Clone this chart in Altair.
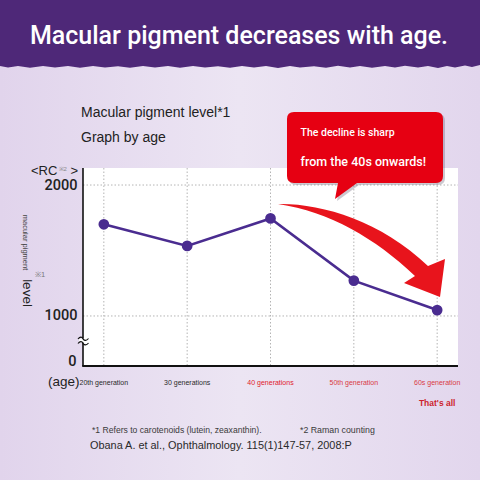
import altair as alt
import pandas as pd

# ---- data -------------------------------------------------------------
ages = ["20th generation", "30 generations", "40 generations",
        "50th generation", "60s generation"]
levels = [1700, 1535, 1745, 1270, 1045]          # RC counts
age_label_colors = ["#2a2a2a", "#2a2a2a", "#e0202c", "#d93a44", "#d93a44"]
y_ticks = [1000, 2000]
y_domain = [618, 2130]                            # axis is broken below 1000

df = pd.DataFrame({"age": ages, "level": levels, "lab_color": age_label_colors})
ticks_df = pd.DataFrame({"tick": y_ticks})
one = pd.DataFrame({"k": [0]})

# ---- geometry ---------------------------------------------------------
OX, OY = 83, 168          # plot-area origin on the 480x480 page
W, H = 375, 198           # plot-area size
SANS = "Liberation Sans"

def px(x):
    return alt.value(x - OX)

def py(y):
    return alt.value(y - OY)

def text(s, x, y, size, color="#222222", weight="normal", align="left",
         baseline="alphabetic", angle=0, font=SANS):
    return alt.Chart(one).mark_text(
        text=s, fontSize=size, color=color, fontWeight=weight, align=align,
        baseline=baseline, angle=angle, font=font
    ).encode(x=px(x), y=py(y))

def shape(path, color, dx=0, dy=0, opacity=1.0, filled=True, stroke_width=0):
    # a custom symbol at size 4 draws its path 1:1 in page pixels
    kw = dict(shape=path, size=4, opacity=opacity, filled=filled)
    if filled:
        kw.update(fill=color, strokeWidth=0)
    else:
        kw.update(stroke=color, strokeWidth=stroke_width)
    return alt.Chart(one).mark_point(**kw).encode(x=px(dx), y=py(dy))

x_scale = alt.Scale(type="point", domain=ages, padding=0.25)
y_scale = alt.Scale(domain=y_domain, nice=False, zero=False)

# ---- page background and banner -------------------------------------
page = alt.Chart(one).mark_rect(
    color=alt.Gradient(
        gradient="linear", x1=0, y1=0, x2=1, y2=0,
        stops=[alt.GradientStop(offset=0, color="#e1d4ec"),
               alt.GradientStop(offset=0.5, color="#ece5f3"),
               alt.GradientStop(offset=1, color="#e2d6ed")])
).encode(x=px(0), x2=px(480), y=py(0), y2=py(480))

banner_path = ("M0,0 H480 V65 L472,67 L465,65.5 L455,67.5 L447,66 L438,68 L428,66 "
               "L418,67.5 L405,65.8 L395,67.6 L385,66 L372,67.8 L360,66 L350,67.5 "
               "L338,65.8 L326,67.8 L314,66.2 L300,67.5 L290,66 L278,68 L266,66 "
               "L254,67.6 L242,66 L230,67.8 L218,66.2 L205,67.5 L193,66 L180,67.8 "
               "L168,66 L155,67.5 L143,66 L130,67.8 L118,66.2 L105,67.6 L93,66 "
               "L80,67.8 L68,66 L55,67.5 L43,66 L30,67.8 L18,66 L8,67.5 L0,66 Z")
banner = shape(banner_path, "#4e2878")
title = text("Macular pigment decreases with age.", 239, 44, 25, color="white",
             weight=500, align="center", font="Roboto")

# ---- plot area, grid and axis lines -----------------------------------
panel = alt.Chart(one).mark_rect(color="white").encode(
    x=alt.value(0), x2=alt.value(W), y=alt.value(0), y2=alt.value(H))

grid_style = dict(color="#b4b4b4", strokeWidth=1, strokeDash=[1.5, 2])
vgrid = alt.Chart(df).mark_rule(**grid_style).encode(
    x=alt.X("age:N", scale=x_scale, axis=None),
    y=alt.value(0), y2=alt.value(H))
hgrid = alt.Chart(ticks_df).mark_rule(**grid_style).encode(
    y=alt.Y("tick:Q", scale=y_scale,
            axis=alt.Axis(values=y_ticks, format="d", title=None, grid=False,
                          ticks=False, domain=False, labelFont="Roboto",
                          labelFontSize=14.5, labelFontWeight=500,
                          labelColor="#222222", labelPadding=6, zindex=1)),
    x=alt.value(0), x2=alt.value(W))

y_line = alt.Chart(one).mark_rule(color="#111111", strokeWidth=1.6).encode(
    x=alt.value(0), y=alt.value(0), y2=alt.value(H))
x_line = alt.Chart(one).mark_rule(color="#111111", strokeWidth=2).encode(
    x=alt.value(-0.8), x2=alt.value(W), y=alt.value(H))

# axis break mark on the y-axis
break_gap = shape("M79,338.6 L87,338.6 L87,342.6 L79,342.6 Z", "white")
break_waves = shape("M78,339 C80,336.5 82,336.5 83,338.8 C84.5,341 86.5,341 88.5,338.5 "
                    "M78,343.5 C80,341 82,341 83,343.3 C84.5,345.5 86.5,345.5 88.5,343",
                    "#111111", filled=False, stroke_width=1.2)

# ---- data marks ------------------------------------------------------
line = alt.Chart(df).mark_line(color="#4a2c90", strokeWidth=2.6).encode(
    x=alt.X("age:N", scale=x_scale, sort=ages),
    y=alt.Y("level:Q", scale=y_scale))
dots = alt.Chart(df).mark_circle(color="#4a2c90", size=115, opacity=1).encode(
    x=alt.X("age:N", scale=x_scale, sort=ages),
    y=alt.Y("level:Q", scale=y_scale))

x_labels = alt.Chart(df).mark_text(fontSize=7, font=SANS, baseline="middle").encode(
    x=alt.X("age:N", scale=x_scale),
    y=alt.value(H + 16.5),
    text="age:N",
    color=alt.Color("lab_color:N", scale=None))
x_note = alt.Chart(pd.DataFrame({"age": [ages[-1]], "note": ["That's all"]})).mark_text(
    fontSize=8.5, font=SANS, fontWeight="bold", color="#cc1f2c", baseline="middle"
).encode(x=alt.X("age:N", scale=x_scale), y=alt.value(H + 37), text="note:N")

# ---- call-out bubble and arrow -----------------------------------------
bubble_path = ("M294,112 H436 Q443,112 443,119 V176 Q443,183 436,183 H357 "
               "L335,199 L338,183 H294 Q287,183 287,176 V119 Q287,112 294,112 Z")
bubble_shadow = shape(bubble_path, "#6e6478", dx=2, dy=2, opacity=0.35)
bubble = shape(bubble_path, "#e60012")
arrow_path = ("M278,204 C320,203 380,220 428,266 L445,259 L440,297 L404,283 "
              "L415,276 C375,238 330,212 278,204 Z")
arrow = shape(arrow_path, "#e8141c")

# ---- texts -------------------------------------------------------------
texts = [
    text("Macular pigment level*1", 81, 117, 14),
    text("Graph by age", 81, 142, 14),
    text("<RC", 31, 175, 13),
    text("※2", 58.5, 170.5, 6, color="#8a8a8a"),
    text(">", 70.5, 175, 13),
    text("0", 76.5, 362, 14.5, weight=500, align="right", baseline="middle", font="Roboto"),
    text("macular pigment", 24.5, 242.5, 7.5, color="#444444", align="center",
         baseline="middle", angle=90),
    text("※1", 40, 275, 7.5, color="#777777", align="center", baseline="middle"),
    text("level", 27, 293, 13.5, align="center", baseline="middle", angle=90),
    text("(age)", 48, 382, 13.5, baseline="middle"),
    text("The decline is sharp", 300.5, 133, 10.5, color="white", baseline="middle",
         weight=500, font="Roboto"),
    text("from the 40s onwards!", 300.5, 161.5, 12.5, color="white", baseline="middle",
         weight=500, font="Roboto"),
    text("*1 Refers to carotenoids (lutein, zeaxanthin).", 92, 430, 8.6,
         color="#3a3a3a", baseline="middle"),
    text("*2 Raman counting", 300, 430, 8.8, color="#3a3a3a", baseline="middle"),
    text("Obana A. et al., Ophthalmology. 115(1)147-57, 2008:P", 90, 445.5, 10.9,
         color="#2a2a2a", baseline="middle"),
]

chart = alt.layer(
    page, banner, title, panel, vgrid, hgrid, y_line, x_line,
    break_gap, break_waves, line, dots, x_labels, x_note,
    bubble_shadow, bubble, arrow, *texts
).properties(
    width=W, height=H,
    padding={"left": OX, "top": OY, "right": 480 - OX - W, "bottom": 480 - OY - H},
    autosize=alt.AutoSizeParams(type="none"),
).configure_view(stroke=None, fill=None).configure(background="#e6ddef")

chart.save("out.html", embed_options={"renderer": "svg", "actions": False})
